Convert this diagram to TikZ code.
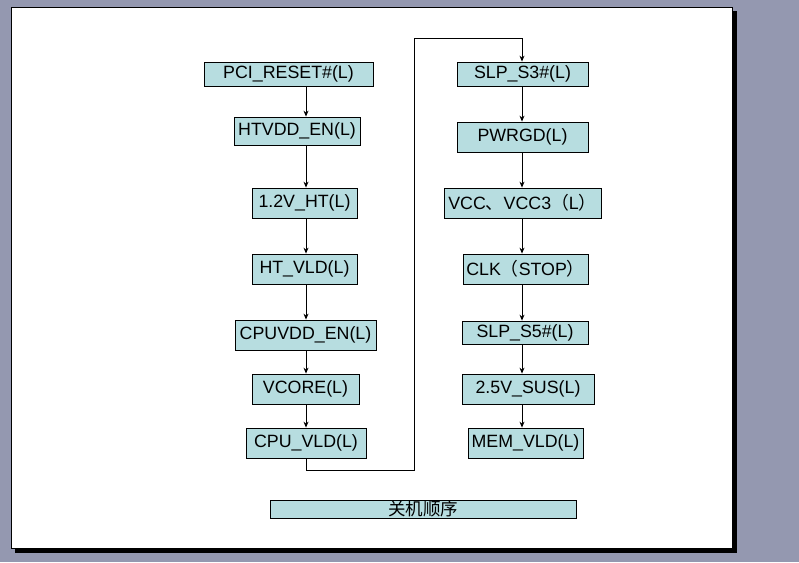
\documentclass[tikz,border=0pt]{standalone}
\usepackage{fontspec}
\setmainfont{Liberation Sans}
\newfontfamily\cjk{Noto Sans CJK SC}
\usetikzlibrary{arrows.meta}
\definecolor{bgc}{RGB}{148,152,176}
\definecolor{boxc}{RGB}{183,221,224}
\tikzset{
  stepbox/.style={draw=black, line width=0.8pt, fill=boxc, inner sep=0pt, font=\fontsize{17.8}{20}\selectfont},
  flow/.style={draw=black, line width=0.9pt, -{Stealth[length=6pt,width=5pt]}},
  plain/.style={draw=black, line width=0.9pt}
}
\newcommand{\bx}[6]{% name, x1, y1, x2, y2, text
  \node[stepbox, minimum width=#4pt-#2pt, minimum height=#5pt-#3pt] (#1) at ({(#2+#4)/2},{(#3+#5)/2}) {#6};}
\begin{document}
\begin{tikzpicture}[x=1pt,y=-1pt]
\useasboundingbox (0,0) rectangle (799,562);
\fill[bgc] (0,0) rectangle (799,562);
\fill[black] (15,11) rectangle (737,553);
\fill[white,draw=black,line width=0.8pt] (11,7) rectangle (732,548);
% left column
\bx{a1}{204}{62}{373}{86}{PCI\_RESET\#(L)}
\bx{a2}{234}{117}{360}{145}{HTVDD\_EN(L)}
\bx{a3}{252}{188}{357}{218}{1.2V\_HT(L)}
\bx{a4}{252}{254}{357}{284}{HT\_VLD(L)}
\bx{a5}{235}{320}{376}{350}{CPUVDD\_EN(L)}
\bx{a6}{252}{374}{359}{404}{VCORE(L)}
\bx{a7}{246}{428}{366}{458}{CPU\_VLD(L)}
% right column
\bx{b1}{457}{62}{588}{86}{SLP\_S3\#(L)}
\bx{b2}{457}{122}{588}{152}{PWRGD(L)}
\bx{b3}{444}{188}{601}{218}{VCC{\cjk 、}VCC3{\cjk （}L{\cjk ）}}
\bx{b4}{463}{254}{588}{284}{CLK{\cjk （}STOP{\cjk ）}}
\bx{b5}{462}{321}{588}{344}{SLP\_S5\#(L)}
\bx{b6}{462}{374}{594}{404}{2.5V\_SUS(L)}
\bx{b7}{468}{428}{583}{458}{MEM\_VLD(L)}
% title
\node[draw=black, line width=0.8pt, fill=boxc, inner sep=0pt, minimum width=306pt, minimum height=18pt, font=\cjk\fontsize{17.5}{18}\selectfont] (t) at (423,509) {关机顺序};
% connectors
\coordinate (cl) at (306,0);
\coordinate (cr) at (522,0);
\foreach \p/\q in {a1/a2,a2/a3,a3/a4,a4/a5,a5/a6,a6/a7}
  \draw[flow] (\p.south -| cl) -- (\q.north -| cl);
\foreach \p/\q in {b1/b2,b2/b3,b3/b4,b4/b5,b5/b6,b6/b7}
  \draw[flow] (\p.south -| cr) -- (\q.north -| cr);
\coordinate (d1) at (306,470);
\coordinate (d2) at (414,470);
\coordinate (d3) at (414,38);
\coordinate (d4) at (522,38);
\draw[plain] (a7.south -| cl) -- (d1) -- (d2) -- (d3) -- (d4);
\draw[flow] (d4) -- (b1.north -| cr);
\end{tikzpicture}
\end{document}
